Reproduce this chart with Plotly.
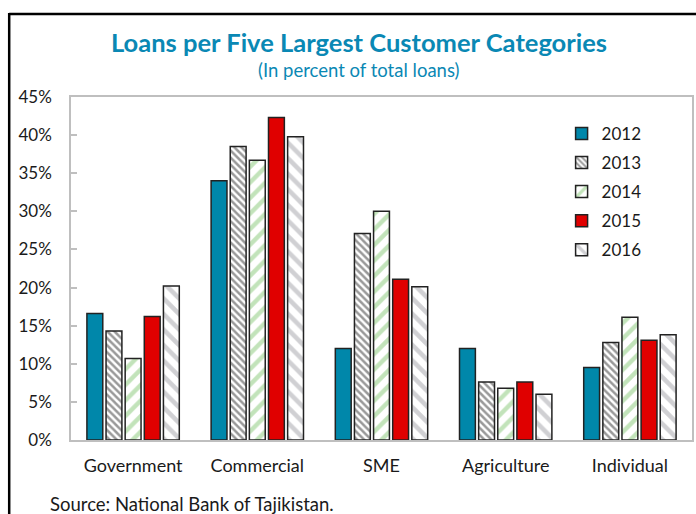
import plotly.graph_objects as go

categories = ["Government", "Commercial", "SME", "Agriculture", "Individual"]
years = ["2012", "2013", "2014", "2015", "2016"]
share_2012 = [16.6, 34.0, 12.0, 12.0, 9.5]
share_2013 = [14.3, 38.5, 27.1, 7.6, 12.8]
share_2014 = [10.7, 36.7, 30.0, 6.8, 16.1]
share_2015 = [16.2, 42.3, 21.1, 7.6, 13.1]
share_2016 = [20.2, 39.8, 20.1, 6.0, 13.8]
y_ticks = [0, 5, 10, 15, 20, 25, 30, 35, 40, 45]

series = [share_2012, share_2013, share_2014, share_2015, share_2016]

styles = [
    dict(color="#0087AA", pattern=None),
    dict(color="white", pattern=dict(shape="\\", fgcolor="#333333", bgcolor="white", size=5, solidity=0.5)),
    dict(color="white", pattern=dict(shape="/", fgcolor="#86C876", bgcolor="white", size=11, solidity=0.4)),
    dict(color="#E00000", pattern=None),
    dict(color="white", pattern=dict(shape="\\", fgcolor="#A2A2A8", bgcolor="white", size=11, solidity=0.42)),
]

FONT = "Lato"
TEAL = "#0A88B4"
TEXT = "#1a1a1a"

fig = go.Figure()
for yr, vals, st in zip(years, series, styles):
    marker = dict(color=st["color"], line=dict(color="#222222", width=1.5))
    if st["pattern"]:
        marker["pattern"] = st["pattern"]
    fig.add_trace(go.Bar(name=yr, x=categories, y=vals, marker=marker, legendgroup=yr))

fig.update_layout(
    width=696, height=514,
    margin=dict(l=71, r=2, t=97, b=74),
    paper_bgcolor="white", plot_bgcolor="white",
    barmode="group", bargap=0.23, bargroupgap=0.17,
    font=dict(family=FONT, size=17, color=TEXT),
    showlegend=True,
    legend=dict(
        x=0.79, y=0.945, xanchor="left", yanchor="top",
        font=dict(family=FONT, size=17, color=TEXT),
        bgcolor="rgba(0,0,0,0)", tracegroupgap=4,
        traceorder="grouped",
    ),
    annotations=[
        dict(text="<b>Loans per Five Largest Customer Categories</b>",
             xref="paper", yref="paper", x=0.463, y=(440 - 42) / 343,
             xanchor="center", yanchor="middle", showarrow=False,
             font=dict(family=FONT, size=25.5, color=TEAL)),
        dict(text="(In percent of total loans)",
             xref="paper", yref="paper", x=0.463, y=(440 - 70) / 343,
             xanchor="center", yanchor="middle", showarrow=False,
             font=dict(family=FONT, size=18.5, color=TEAL)),
        dict(text="Source: National Bank of Tajikistan.",
             xref="paper", yref="paper", x=(48 - 71) / 623, y=(440 - 504) / 343,
             xanchor="left", yanchor="middle", showarrow=False,
             font=dict(family=FONT, size=18.5, color=TEXT)),
    ],
    shapes=[
        # outer frame: left and top edges
        dict(type="line", xref="paper", yref="paper",
             x0=(9 - 71) / 623, x1=(9 - 71) / 623, y0=(440 - 13) / 343, y1=(440 - 530) / 343,
             line=dict(color="black", width=2.5)),
        dict(type="line", xref="paper", yref="paper",
             x0=(9 - 71) / 623, x1=(720 - 71) / 623, y0=(440 - 14) / 343, y1=(440 - 14) / 343,
             line=dict(color="black", width=2.5)),
    ],
)

fig.update_xaxes(
    showline=True, linecolor="#BFBFBF", linewidth=1.5, mirror=True,
    ticks="", tickfont=dict(family=FONT, size=18, color=TEXT),
    ticklabelstandoff=9,
)
fig.update_yaxes(
    range=[0, 45], tickvals=y_ticks, ticktext=[f"{v}%" for v in y_ticks],
    showline=True, linecolor="#BFBFBF", linewidth=1.5, mirror=True,
    showgrid=False, zeroline=False,
    ticks="inside", ticklen=6, tickcolor="#BFBFBF", tickwidth=1.5,
    tickfont=dict(family=FONT, size=17, color=TEXT),
    ticklabelstandoff=14,
)

fig.write_html("out.html")
